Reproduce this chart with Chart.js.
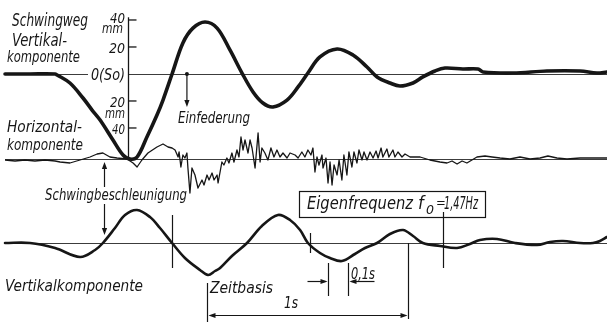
<!DOCTYPE html>
<html><head><meta charset="utf-8">
<script src="https://cdn.jsdelivr.net/npm/chart.js@4.4.1/dist/chart.umd.min.js"></script>
<style>html,body{margin:0;padding:0;background:#fff}#wrap{width:607px;height:324px}</style>
</head><body><div id="wrap"><canvas id="c" width="607" height="324"></canvas></div>
<script>
// ---- data (time in s) ----
// Schwingweg, Vertikalkomponente (mm)
const tWeg = [0.025,0.149,0.274,0.284,0.348,0.413,0.458,0.498,0.562,0.612,0.647,0.682,0.731,0.781,0.811,0.856,0.910,0.960,1.020,1.080,1.144,1.204,1.259,1.308,1.358,1.428,1.483,1.532,1.592,1.677,1.756,1.826,1.876,1.940,1.990,2.055,2.104,2.164,2.214,2.303,2.378,2.403,2.552,2.721,2.886,2.970,3.020];
const sWeg = [0,0,0,-0.7,-6.7,-17.8,-26.7,-34.1,-48.9,-60,-63,-61.5,-46.7,-30.4,-19.3,0,23,34,38.5,34,17.8,0.7,-13.3,-21.5,-24.4,-19.3,-9.6,0.7,12.6,18.5,14.1,5.2,-2.2,-6.7,-8.9,-6.7,-2.2,2.2,4.4,3.7,3.7,1.5,0.7,2.2,2.2,0.7,1.5];
// Schwingbeschleunigung, Horizontalkomponente (rel.)
const tHor = [0.025,0.075,0.124,0.174,0.224,0.274,0.299,0.348,0.398,0.448,0.483,0.512,0.547,0.582,0.632,0.662,0.682,0.706,0.736,0.781,0.811,0.836,0.856,0.871,0.886,0.891,0.900,0.910,0.920,0.930,0.935,0.945,0.955,0.970,0.985,1.005,1.015,1.030,1.040,1.055,1.065,1.080,1.085,1.104,1.114,1.129,1.139,1.154,1.164,1.179,1.189,1.199,1.209,1.219,1.234,1.244,1.254,1.269,1.284,1.294,1.303,1.318,1.333,1.348,1.363,1.378,1.393,1.408,1.428,1.443,1.468,1.483,1.502,1.517,1.532,1.547,1.557,1.567,1.577,1.587,1.602,1.607,1.622,1.632,1.642,1.652,1.662,1.677,1.687,1.701,1.711,1.726,1.736,1.751,1.761,1.776,1.786,1.801,1.811,1.826,1.841,1.856,1.871,1.881,1.896,1.905,1.925,1.935,1.955,1.965,1.980,2.000,2.015,2.040,2.065,2.090,2.139,2.189,2.224,2.249,2.274,2.299,2.323,2.373,2.413,2.448,2.488,2.537,2.587,2.637,2.687,2.726,2.771,2.821,2.886,2.985,3.020];
const aHor = [-1,-2,-1,-2,-1,-2,-3,-4,-1,2,5,6,2,1,0,-4,-8,-1,6,12,15,12,11,9,2,7,-8,4,1,6,-9,-34,-9,-16,-29,-21,-26,-16,-21,-14,-21,-16,-24,-3,-6,1,-4,6,-3,9,2,22,9,19,6,19,11,-9,26,-3,11,6,-1,11,2,9,2,6,1,6,4,1,7,2,9,4,11,-13,2,-6,4,-9,1,-24,-3,-26,-6,-16,-1,-21,4,-16,7,-8,7,-4,9,-1,7,-1,7,1,8,1,11,2,10,2,9,2,7,2,5,2,2,2,-1,-3,-4,-2,-5,-2,-4,2,3,2,1,0,2,0,1,3,1,0,1,1,1];
// Schwingbeschleunigung, Vertikalkomponente (rel.)
const tVert = [0.025,0.149,0.274,0.398,0.473,0.512,0.572,0.622,0.682,0.746,0.796,0.856,0.920,0.995,1.035,1.070,1.095,1.154,1.229,1.303,1.383,1.443,1.493,1.532,1.592,1.642,1.701,1.766,1.816,1.876,1.940,2.005,2.055,2.104,2.189,2.274,2.338,2.388,2.473,2.562,2.672,2.736,2.801,2.886,2.950,2.985,3.020];
const aVert = [0,0,-5,-14,-7,0,15,28,33,26,15,0,-15,-27,-32,-28,-25,-13,0,17,28,23,13,0,-10,-15,-18,-11,-5,0,9,13,7,0,-3,-5,-1,3,4,0,-2,1,2,0,0,2,6];
// axis ticks (mm) and time marks (s)
const wegTicks = [40, 20, -20, -40];
const periodMarks = [0.856, 1.542, 2.204];
const timeBase = [1.030, 2.030];
const tenthSecond = [1.632, 1.732];

const FONT = '"DejaVu Sans Condensed","Liberation Sans Narrow","DejaVu Sans",sans-serif';
const INK = '#161616';

function fitText(ctx, s, left, base, size, w) {
  ctx.save();
  ctx.font = 'italic ' + size + 'px ' + FONT;
  const m = ctx.measureText(s).width;
  ctx.translate(left, base);
  if (w) ctx.scale(w / m, 1);
  ctx.textAlign = 'left'; ctx.textBaseline = 'alphabetic';
  ctx.fillStyle = INK;
  ctx.fillText(s, 0, 0);
  ctx.restore();
}
function seg(ctx, x1, y1, x2, y2) {
  ctx.beginPath(); ctx.moveTo(x1, y1); ctx.lineTo(x2, y2); ctx.stroke();
}
function head(ctx, x, y, dir) { // tip at x,y
  const L = 7, W = 2.6;
  ctx.beginPath();
  if (dir === 'd') { ctx.moveTo(x, y); ctx.lineTo(x - W, y - L); ctx.lineTo(x + W, y - L); }
  if (dir === 'u') { ctx.moveTo(x, y); ctx.lineTo(x - W, y + L); ctx.lineTo(x + W, y + L); }
  if (dir === 'l') { ctx.moveTo(x, y); ctx.lineTo(x + L, y - W); ctx.lineTo(x + L, y + W); }
  if (dir === 'r') { ctx.moveTo(x, y); ctx.lineTo(x - L, y - W); ctx.lineTo(x - L, y + W); }
  ctx.closePath(); ctx.fill();
}

const deco = {
  id: 'deco',
  beforeDatasetsDraw(chart) {
    const { ctx, scales: { x, yW, yH, yA } } = chart;
    ctx.save();
    ctx.strokeStyle = '#3c3c3c'; ctx.lineWidth = 1;
    const y0 = Math.round(yW.getPixelForValue(0)) + 0.5;
    seg(ctx, 5, y0, 88, y0);
    const ax = Math.round(x.getPixelForValue(0.637)) + 0.5;
    seg(ctx, ax, y0, 607, y0);
    const yh = Math.round(yH.getPixelForValue(0)) + 0.5;
    seg(ctx, 5, yh, 607, yh);
    const ya = Math.round(yA.getPixelForValue(0)) + 0.5;
    seg(ctx, 5, ya, 607, ya);
    // mm axis
    ctx.strokeStyle = INK; ctx.lineWidth = 1.3;
    seg(ctx, ax, yW.getPixelForValue(42), ax, yh);
    wegTicks.forEach(v => { const p = yW.getPixelForValue(v); seg(ctx, ax, p, ax + 8, p); });
    ctx.restore();
  },
  afterDatasetsDraw(chart) {
    const { ctx, scales: { x, yW, yH, yA } } = chart;
    ctx.save();
    ctx.strokeStyle = INK; ctx.fillStyle = INK; ctx.lineWidth = 1.2;
    // Einfederung arrow
    const ex = x.getPixelForValue(0.930);
    const ey0 = yW.getPixelForValue(0), ey1 = yW.getPixelForValue(-24.5);
    seg(ctx, ex, ey0, ex, ey1 - 5);
    head(ctx, ex, ey1, 'd');
    ctx.beginPath(); ctx.arc(ex, ey0, 2, 0, Math.PI * 2); ctx.fill();
    // Schwingbeschleunigung arrows
    const bx = Math.round(x.getPixelForValue(0.517)) + 0.5;
    const by0 = yH.getPixelForValue(-3), by1 = yA.getPixelForValue(8);
    seg(ctx, bx, by0 + 5, bx, 187);
    seg(ctx, bx, 204, bx, by1 - 5);
    head(ctx, bx, by0, 'u'); head(ctx, bx, by1, 'd');
    // period marks
    const ext = [[28, -25], [10, -10], [31, -25]];
    periodMarks.forEach((t, i) => {
      const px = Math.round(x.getPixelForValue(t)) + 0.5;
      seg(ctx, px, yA.getPixelForValue(ext[i][0]), px, yA.getPixelForValue(ext[i][1]));
    });
    // Zeitbasis 1 s
    const z0 = Math.round(x.getPixelForValue(timeBase[0])) + 0.5;
    const z1 = Math.round(x.getPixelForValue(timeBase[1])) + 0.5;
    seg(ctx, z0, 283, z0, 322);
    seg(ctx, z1, yA.getPixelForValue(0), z1, 319);
    seg(ctx, z0 + 4, 315.5, z1 - 4, 315.5);
    head(ctx, z0 + 1, 315.5, 'l'); head(ctx, z1 - 1, 315.5, 'r');
    // 0,1 s
    const d0 = Math.round(x.getPixelForValue(tenthSecond[0])) + 0.5;
    const d1 = Math.round(x.getPixelForValue(tenthSecond[1])) + 0.5;
    seg(ctx, d0, 263, d0, 296);
    seg(ctx, d1, 263, d1, 296);
    seg(ctx, d0 - 21, 281.5, d0 - 3, 281.5);
    seg(ctx, d1 + 3, 281.5, d1 + 26, 281.5);
    head(ctx, d0 - 1, 281.5, 'r'); head(ctx, d1 + 1, 281.5, 'l');
    // Eigenfrequenz box
    ctx.lineWidth = 1.2;
    ctx.strokeRect(299.5, 191.5, 186, 26);
    // texts
    fitText(ctx, 'Schwingweg', 12, 26, 17, 76);
    fitText(ctx, 'Vertikal-', 12, 46, 17, 55);
    fitText(ctx, 'komponente', 7, 62, 16, 73);
    fitText(ctx, '40', 110, 23, 14, 15);
    fitText(ctx, 'mm', 102, 33, 14, 21);
    fitText(ctx, '20', 109, 53, 14, 16);
    fitText(ctx, '0(So)', 91, 80, 16, 34);
    fitText(ctx, '20', 110, 107, 14, 15);
    fitText(ctx, 'mm', 105, 118, 14, 20);
    fitText(ctx, '40', 112, 134, 14, 13);
    fitText(ctx, 'Horizontal-', 7, 132, 16, 75);
    fitText(ctx, 'komponente', 7, 150, 16, 76);
    fitText(ctx, 'Einfederung', 178, 123, 16, 72);
    fitText(ctx, 'Schwingbeschleunigung', 45, 200, 16, 142);
    fitText(ctx, 'Eigenfrequenz', 307, 209, 18, 106);
    fitText(ctx, 'f', 418, 209, 18, null);
    fitText(ctx, '0', 426, 214, 12, 8);
    fitText(ctx, '=', 436, 207, 13, null);
    fitText(ctx, '1,47Hz', 444, 209, 18, 34);
    fitText(ctx, 'Vertikalkomponente', 5, 291, 16, 138);
    fitText(ctx, 'Zeitbasis', 210, 293, 16, 63);
    fitText(ctx, '1s', 284, 308, 15, 14);
    fitText(ctx, '0,1s', 351, 279, 15, 24);
    ctx.restore();
  }
};

const pts = (ts, vs) => ts.map((t, i) => ({ x: t, y: vs[i] }));

new Chart(document.getElementById('c'), {
  type: 'line',
  data: {
    datasets: [
      { label: 'Schwingweg Vertikalkomponente', data: pts(tWeg, sWeg), yAxisID: 'yW',
        borderColor: INK, borderWidth: 3.6, tension: 0.35, pointRadius: 0, borderJoinStyle: 'round', borderCapStyle: 'round' },
      { label: 'Horizontalkomponente', data: pts(tHor, aHor), yAxisID: 'yH',
        borderColor: INK, borderWidth: 1.3, tension: 0, pointRadius: 0, borderJoinStyle: 'round' },
      { label: 'Vertikalkomponente', data: pts(tVert, aVert), yAxisID: 'yA',
        borderColor: INK, borderWidth: 2.6, tension: 0.35, pointRadius: 0, borderJoinStyle: 'round', borderCapStyle: 'round' }
    ]
  },
  options: {
    responsive: false, animation: false, events: [],
    layout: { padding: 0 },
    plugins: { legend: { display: false }, tooltip: { enabled: false } },
    scales: {
      x: { type: 'linear', min: 0, max: 3.02, display: false },
      yW: { type: 'linear', min: -185.2, max: 54.8, display: false },
      yH: { type: 'linear', min: -165, max: 159, display: false },
      yA: { type: 'linear', min: -81, max: 243, display: false }
    }
  },
  plugins: [deco]
});
</script></body></html>
